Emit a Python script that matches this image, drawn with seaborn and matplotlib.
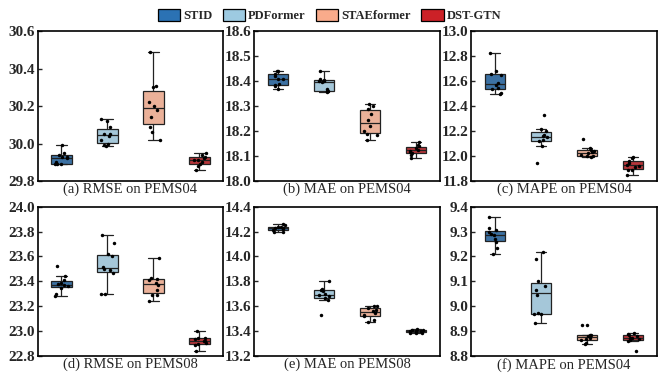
"""
Boxplots of repeated-run errors for four traffic models on PEMS04 / PEMS08.
"""

import numpy as np
import pandas as pd
import seaborn as sns
import matplotlib.pyplot as plt
from matplotlib.patches import Patch


# ---------------------------------------------------------------------
# Data (10 runs per model)
# ---------------------------------------------------------------------
MODELS = ["STID", "PDFormer", "STAEformer", "DST-GTN"]
COLORS = ["#2b72b4", "#9dcae1", "#f9ab8b", "#cc2127"]

# (a) RMSE on PEMS04
rmse04_stid = [29.99, 29.95, 29.94, 29.93, 29.93, 29.92, 29.90, 29.89, 29.89, 29.89]
rmse04_pdf = [30.13, 30.12, 30.09, 30.05, 30.05, 30.04, 30.02, 30.00, 29.99, 29.985]
rmse04_stae = [30.49, 30.31, 30.30, 30.22, 30.20, 30.18, 30.14, 30.09, 30.06, 30.02]
rmse04_dst = [29.95, 29.94, 29.93, 29.92, 29.91, 29.91, 29.90, 29.89, 29.88, 29.86]

# (b) MAE on PEMS04
mae04_stid = [18.44, 18.44, 18.43, 18.42, 18.41, 18.41, 18.39, 18.385, 18.38, 18.37]
mae04_pdf = [18.44, 18.41, 18.405, 18.40, 18.40, 18.395, 18.37, 18.36, 18.36, 18.355]
mae04_stae = [18.31, 18.30, 18.29, 18.27, 18.245, 18.22, 18.20, 18.19, 18.185, 18.165]
mae04_dst = [18.155, 18.145, 18.14, 18.13, 18.125, 18.12, 18.115, 18.11, 18.105, 18.09]

# (c) MAPE on PEMS04
mape04_stid = [12.825, 12.685, 12.66, 12.65, 12.585, 12.57, 12.545, 12.535, 12.505, 12.50]
mape04_pdf = [12.325, 12.22, 12.20, 12.17, 12.16, 12.15, 12.13, 12.12, 12.08, 11.945]
mape04_stae = [12.135, 12.06, 12.05, 12.04, 12.03, 12.02, 12.01, 12.00, 12.00, 11.995]
mape04_dst = [11.99, 11.985, 11.96, 11.945, 11.93, 11.92, 11.91, 11.89, 11.885, 11.845]

# (d) RMSE on PEMS08
rmse08_stid = [23.525, 23.44, 23.41, 23.39, 23.38, 23.37, 23.36, 23.35, 23.30, 23.28]
rmse08_pdf = [23.77, 23.71, 23.62, 23.60, 23.515, 23.50, 23.49, 23.47, 23.30, 23.30]
rmse08_stae = [23.585, 23.425, 23.42, 23.415, 23.39, 23.37, 23.33, 23.295, 23.29, 23.24]
rmse08_dst = [23.005, 22.95, 22.945, 22.94, 22.925, 22.92, 22.91, 22.895, 22.89, 22.84]

# (e) MAE on PEMS08
mae08_stid = [14.26, 14.25, 14.24, 14.235, 14.23, 14.225, 14.22, 14.21, 14.20, 14.195]
mae08_pdf = [13.80, 13.74, 13.735, 13.72, 13.70, 13.69, 13.68, 13.665, 13.65, 13.53]
mae08_stae = [13.60, 13.60, 13.59, 13.57, 13.56, 13.55, 13.53, 13.52, 13.49, 13.475]
mae08_dst = [13.415, 13.41, 13.41, 13.405, 13.40, 13.40, 13.395, 13.39, 13.39, 13.385]

# (f) MAPE (label in the source figure says PEMS04)
mape08_stid = [9.36, 9.315, 9.305, 9.30, 9.29, 9.285, 9.27, 9.26, 9.235, 9.21]
mape08_pdf = [9.22, 9.19, 9.10, 9.08, 9.065, 9.045, 8.975, 8.97, 8.97, 8.935]
mape08_stae = [8.925, 8.925, 8.885, 8.885, 8.88, 8.875, 8.87, 8.865, 8.855, 8.85]
mape08_dst = [8.895, 8.89, 8.885, 8.88, 8.875, 8.875, 8.87, 8.865, 8.86, 8.82]

PANELS = [
    ("(a) RMSE on PEMS04", [rmse04_stid, rmse04_pdf, rmse04_stae, rmse04_dst], (29.8, 30.6), 0.2),
    ("(b) MAE on PEMS04", [mae04_stid, mae04_pdf, mae04_stae, mae04_dst], (18.0, 18.6), 0.1),
    ("(c) MAPE on PEMS04", [mape04_stid, mape04_pdf, mape04_stae, mape04_dst], (11.8, 13.0), 0.2),
    ("(d) RMSE on PEMS08", [rmse08_stid, rmse08_pdf, rmse08_stae, rmse08_dst], (22.8, 24.0), 0.2),
    ("(e) MAE on PEMS08", [mae08_stid, mae08_pdf, mae08_stae, mae08_dst], (13.2, 14.4), 0.2),
    ("(f) MAPE on PEMS04", [mape08_stid, mape08_pdf, mape08_stae, mape08_dst], (8.8, 9.4), 0.1),
]


# ---------------------------------------------------------------------
# Style
# ---------------------------------------------------------------------
sns.set_style("ticks")
plt.rcParams.update({
    "font.family": ["Liberation Serif", "DejaVu Serif"],
    "axes.linewidth": 1.2,
    "axes.edgecolor": "black",
})

# axes rectangles in figure fractions: [left, bottom, width, height]
LEFTS = [0.057, 0.386, 0.715]
WIDTH = 0.282
BOTTOMS = [0.515, 0.045]
HEIGHT = 0.401


def to_long(series_list):
    rows = []
    for model, values in zip(MODELS, series_list):
        for v in values:
            rows.append({"Model": model, "Value": v})
    return pd.DataFrame(rows)


def main() -> None:
    np.random.seed(3)
    fig = plt.figure(figsize=(6.59, 3.73), dpi=100)

    for i, (label, series, ylim, step) in enumerate(PANELS):
        row, col = divmod(i, 3)
        ax = fig.add_axes([LEFTS[col], BOTTOMS[row], WIDTH, HEIGHT])
        df = to_long(series)

        sns.boxplot(
            data=df, x="Model", y="Value", hue="Model", order=MODELS,
            hue_order=MODELS, palette=COLORS, width=0.44, showfliers=False,
            linecolor="#222222", linewidth=0.9, legend=False, ax=ax,
        )
        sns.stripplot(
            data=df, x="Model", y="Value", order=MODELS, color="black",
            size=2.5, jitter=0.15, ax=ax,
        )

        ax.set_xlim(-0.52, 3.52)
        ax.set_ylim(*ylim)
        ticks = np.arange(ylim[0], ylim[1] + step / 2, step)
        ax.set_yticks(ticks)
        ax.set_yticklabels([f"{t:.1f}" for t in ticks], fontweight="bold", fontsize=11)
        ax.tick_params(axis="y", direction="in", length=3, width=1, pad=2)
        ax.set_xticks([])
        ax.set_xlabel(label, fontsize=10.5, labelpad=1)
        ax.set_ylabel("")
        for spine in ax.spines.values():
            spine.set_visible(True)

    handles = [Patch(facecolor=c, edgecolor="black", linewidth=0.9) for c in COLORS]
    fig.legend(
        handles, MODELS, loc="center", bbox_to_anchor=(0.5, 0.958), ncol=4,
        frameon=False, prop={"weight": "bold", "size": 9},
        handlelength=1.8, handleheight=1.1, handletextpad=0.25, columnspacing=0.8,
    )

    fig.savefig("out.png", dpi=100)


if __name__ == "__main__":
    main()
